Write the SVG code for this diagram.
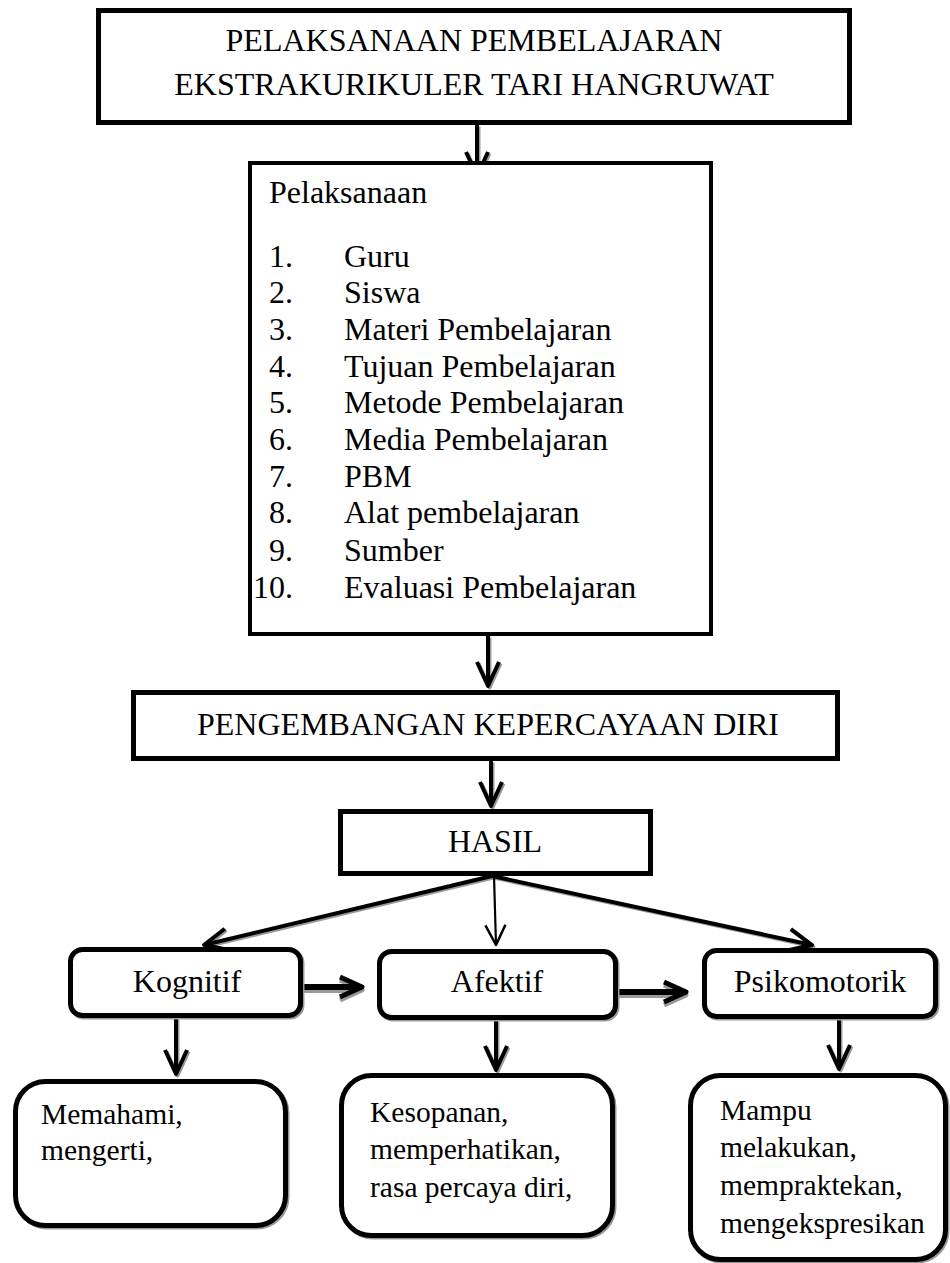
<svg xmlns="http://www.w3.org/2000/svg" width="950" height="1263" viewBox="0 0 950 1263">
<defs>
<style>
.box{fill:#fff;stroke:#000;stroke-width:5}
.rb{fill:#fff;stroke:#000;stroke-width:5}
.bsh{fill:none;stroke:#999;stroke-width:5}
.t{font-family:"Liberation Serif","Times New Roman",serif;font-size:32px;fill:#000}
.s{font-family:"Liberation Serif","Times New Roman",serif;font-size:29.5px;fill:#000}
.c{text-anchor:middle}
.e{text-anchor:end}
.ln{fill:none;stroke:#000;stroke-width:4}
.sh{fill:none;stroke:#9a9a9a;stroke-width:4}
.thin{fill:none;stroke:#000;stroke-width:2.2}
.thick{fill:none;stroke:#000;stroke-width:6}
.shk{fill:none;stroke:#9a9a9a;stroke-width:6}
</style>
<marker id="a" markerUnits="userSpaceOnUse" markerWidth="60" markerHeight="60" viewBox="-30 -30 60 60" refX="0" refY="0" orient="auto"><path d="M-24,-11 L0,0 L-24,11" fill="none" stroke="#000" stroke-width="4" stroke-linejoin="round"/></marker>
<marker id="as" markerUnits="userSpaceOnUse" markerWidth="60" markerHeight="60" viewBox="-30 -30 60 60" refX="0" refY="0" orient="auto"><path d="M-24,-11 L0,0 L-24,11" fill="none" stroke="#9a9a9a" stroke-width="4" stroke-linejoin="round"/></marker>
<marker id="b" markerUnits="userSpaceOnUse" markerWidth="60" markerHeight="60" viewBox="-30 -30 60 60" refX="0" refY="0" orient="auto"><path d="M-20,-10 L0,0 L-20,10" fill="none" stroke="#000" stroke-width="2.5" stroke-linejoin="round"/></marker>
<marker id="k" markerUnits="userSpaceOnUse" markerWidth="60" markerHeight="60" viewBox="-30 -30 60 60" refX="0" refY="0" orient="auto"><path d="M-22,-10 L0,0 L-22,10" fill="none" stroke="#000" stroke-width="5" stroke-linejoin="round"/></marker>
<marker id="ks" markerUnits="userSpaceOnUse" markerWidth="60" markerHeight="60" viewBox="-30 -30 60 60" refX="0" refY="0" orient="auto"><path d="M-22,-10 L0,0 L-22,10" fill="none" stroke="#9a9a9a" stroke-width="5" stroke-linejoin="round"/></marker>
</defs>
<rect width="950" height="1263" fill="#fff"/>

<g id="connectors">
  <g transform="translate(1.5,1.5)">
    <path class="sh" d="M477,125 L477,176" marker-end="url(#as)"/>
    <path class="sh" d="M488,636 L488,686" marker-end="url(#as)"/>
    <path class="sh" d="M491,761 L491,806" marker-end="url(#as)"/>
    <path class="sh" d="M492,876 L204,945" marker-end="url(#as)"/>
    <path class="sh" d="M492,876 L812,945" marker-end="url(#as)"/>
    <path class="sh" d="M176,1018 L176,1074" marker-end="url(#as)"/>
    <path class="sh" d="M496,1020 L496,1070" marker-end="url(#as)"/>
    <path class="sh" d="M839,1019 L839,1069" marker-end="url(#as)"/>
  </g>
  <g transform="translate(0,3)">
    <path class="shk" d="M303,987 L362,987" marker-end="url(#ks)"/>
    <path class="shk" d="M618,992 L686,992" marker-end="url(#ks)"/>
  </g>
  <path class="ln" d="M477,125 L477,176" marker-end="url(#a)"/>
  <path class="ln" d="M488,636 L488,686" marker-end="url(#a)"/>
  <path class="ln" d="M491,761 L491,806" marker-end="url(#a)"/>
  <path class="ln" d="M492,876 L204,945" marker-end="url(#a)"/>
  <path class="thin" d="M494,876 L496,945" marker-end="url(#b)"/>
  <path class="ln" d="M492,876 L812,945" marker-end="url(#a)"/>
  <path class="thick" d="M303,987 L362,987" marker-end="url(#k)"/>
  <path class="thick" d="M618,992 L686,992" marker-end="url(#k)"/>
  <path class="ln" d="M176,1018 L176,1074" marker-end="url(#a)"/>
  <path class="ln" d="M496,1020 L496,1070" marker-end="url(#a)"/>
  <path class="ln" d="M839,1019 L839,1069" marker-end="url(#a)"/>
</g>

<g id="judul">
  <rect class="box" x="98.5" y="10.5" width="751" height="112"/>
  <text class="t c" x="474" y="51">PELAKSANAAN PEMBELAJARAN</text>
  <text class="t c" x="474" y="95">EKSTRAKURIKULER TARI HANGRUWAT</text>
</g>

<g id="pelaksanaan">
  <rect class="box" x="250" y="163" width="461" height="471" style="stroke-width:4"/>
  <text class="t" x="269" y="203">Pelaksanaan</text>
  <text class="t e" x="293" y="267">1.</text><text class="t" x="344" y="267">Guru</text>
  <text class="t e" x="293" y="303">2.</text><text class="t" x="344" y="303">Siswa</text>
  <text class="t e" x="293" y="340">3.</text><text class="t" x="344" y="340">Materi Pembelajaran</text>
  <text class="t e" x="293" y="377">4.</text><text class="t" x="344" y="377">Tujuan Pembelajaran</text>
  <text class="t e" x="293" y="413">5.</text><text class="t" x="344" y="413">Metode Pembelajaran</text>
  <text class="t e" x="293" y="450">6.</text><text class="t" x="344" y="450">Media Pembelajaran</text>
  <text class="t e" x="293" y="487">7.</text><text class="t" x="344" y="487">PBM</text>
  <text class="t e" x="293" y="523">8.</text><text class="t" x="344" y="523">Alat pembelajaran</text>
  <text class="t e" x="293" y="561">9.</text><text class="t" x="344" y="561">Sumber</text>
  <text class="t e" x="293" y="598">10.</text><text class="t" x="344" y="598">Evaluasi Pembelajaran</text>
</g>

<g id="pengembangan">
  <rect class="box" x="133.5" y="692.5" width="704" height="66"/>
  <text class="t c" x="488" y="735">PENGEMBANGAN KEPERCAYAAN DIRI</text>
</g>

<g id="hasil">
  <rect class="box" x="340.5" y="811.5" width="310" height="62"/>
  <text class="t c" x="495" y="852">HASIL</text>
</g>

<g id="kognitif">
  <rect class="bsh" x="72" y="951" width="230" height="66" rx="12"/>
  <rect class="rb" x="70.5" y="949.5" width="230" height="66" rx="12"/>
  <text class="t c" x="187" y="992">Kognitif</text>
</g>

<g id="afektif">
  <rect class="bsh" x="381" y="953" width="236" height="66" rx="12"/>
  <rect class="rb" x="379.5" y="951.5" width="236" height="66" rx="12"/>
  <text class="t c" x="497" y="992">Afektif</text>
</g>

<g id="psikomotorik">
  <rect class="bsh" x="706" y="952" width="231" height="66" rx="12"/>
  <rect class="rb" x="704.5" y="950.5" width="231" height="66" rx="12"/>
  <text class="t c" x="820" y="992">Psikomotorik</text>
</g>

<g id="hasil-kognitif">
  <rect class="bsh" x="17" y="1083" width="270" height="144" rx="30"/>
  <rect class="rb" x="15.5" y="1081.5" width="270" height="144" rx="30"/>
  <text class="s" x="41" y="1124">Memahami,</text>
  <text class="s" x="41" y="1160">mengerti,</text>
</g>

<g id="hasil-afektif">
  <rect class="bsh" x="343" y="1077" width="271" height="160" rx="30"/>
  <rect class="rb" x="341.5" y="1075.5" width="271" height="160" rx="30"/>
  <text class="s" x="370" y="1122">Kesopanan,</text>
  <text class="s" x="370" y="1159">memperhatikan,</text>
  <text class="s" x="370" y="1197">rasa percaya diri,</text>
</g>

<g id="hasil-psikomotorik">
  <rect class="bsh" x="692" y="1077" width="255" height="184" rx="30"/>
  <rect class="rb" x="690.5" y="1075.5" width="255" height="184" rx="30"/>
  <text class="s" x="720" y="1120">Mampu</text>
  <text class="s" x="720" y="1157">melakukan,</text>
  <text class="s" x="720" y="1195">mempraktekan,</text>
  <text class="s" x="720" y="1233">mengekspresikan</text>
</g>
</svg>
